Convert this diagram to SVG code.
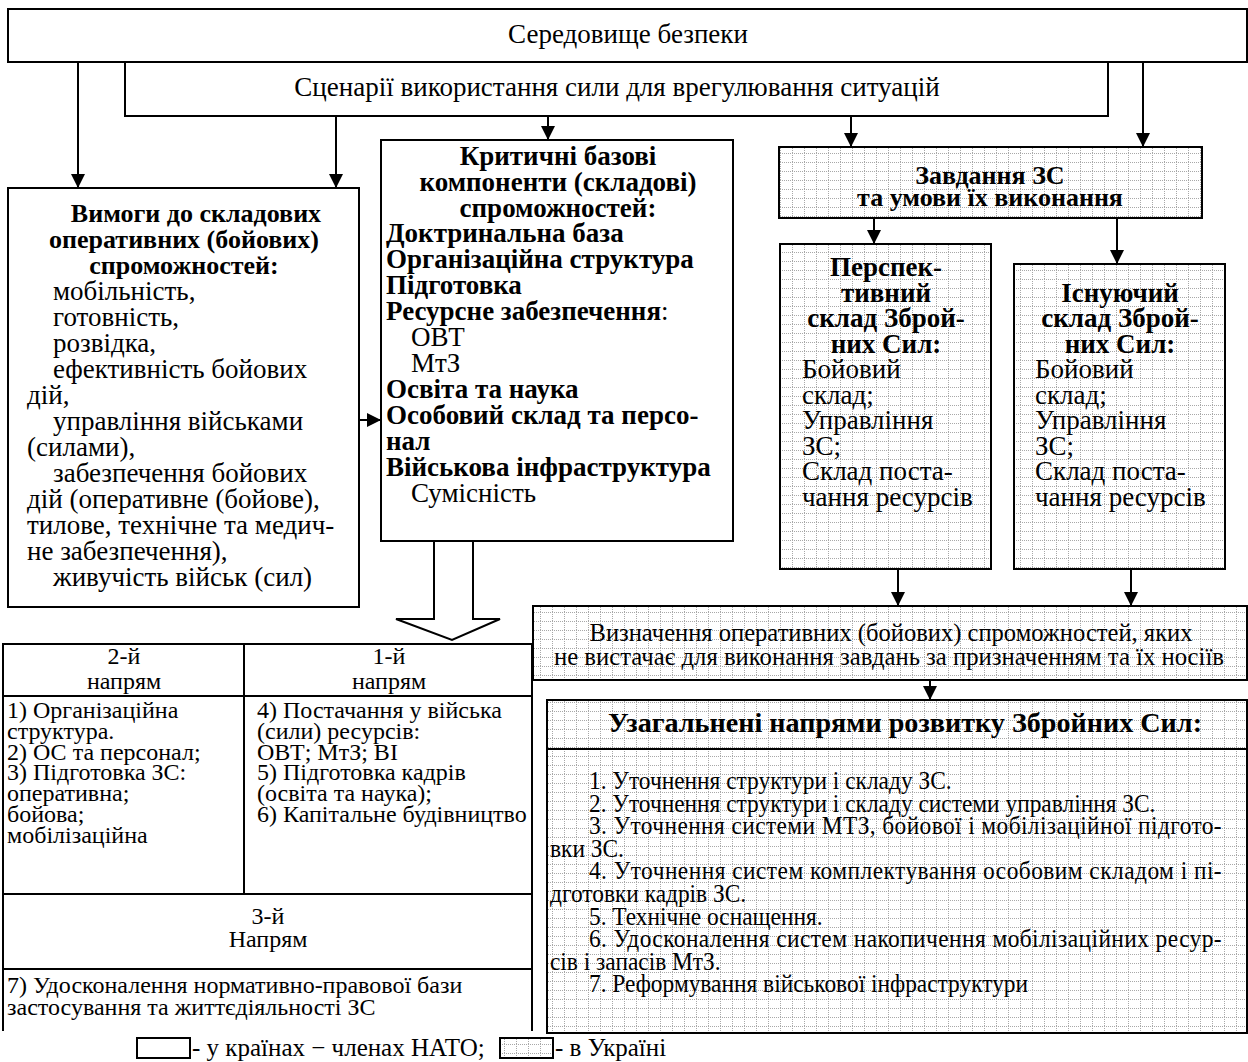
<svg xmlns="http://www.w3.org/2000/svg" width="1248" height="1062" viewBox="0 0 1248 1062">
<defs>
<pattern id="grid" width="12" height="9" patternUnits="userSpaceOnUse">
<rect width="12" height="9" fill="#fff"/>
<path d="M0 0.5H12" stroke="#a8a8a8" stroke-width="1" stroke-dasharray="1 1"/>
<path d="M0.5 0V9" stroke="#a8a8a8" stroke-width="1" stroke-dasharray="1 1"/>
</pattern>
<marker id="ah" markerUnits="userSpaceOnUse" markerWidth="14" markerHeight="14" refX="14" refY="7" orient="auto">
<path d="M0,0 L14,7 L0,14 z" fill="#000"/>
</marker>
<style>
.t{font-family:"Liberation Serif","Times New Roman",serif;font-size:27px;fill:#000}
.b{font-weight:bold}
.c{text-anchor:middle}
.s{font-size:24px}
.n{font-size:26px}
.box{fill:#fff;stroke:#000;stroke-width:2}
.gbox{fill:url(#grid);stroke:#000;stroke-width:2}
.ln{stroke:#000;stroke-width:2;fill:none}
</style>
</defs>
<rect width="1248" height="1062" fill="#fff"/>

<g id="env">
<rect class="box" x="8" y="9" width="1239" height="53"/>
<text class="t c" x="628" y="43">Середовище безпеки</text>
</g>

<g id="scenarios">
<rect class="box" x="125" y="62" width="983" height="54"/>
<text class="t c" x="617" y="96">Сценарії використання сили для врегулювання ситуацій</text>
</g>

<g id="requirements">
<rect class="box" x="8" y="188" width="351" height="419"/>
<text class="t b c n" x="196" y="222">Вимоги до складових</text>
<text class="t b c n" x="184" y="248">оперативних (бойових)</text>
<text class="t b c n" x="184" y="274">спроможностей:</text>
<text class="t" x="53" y="300">мобільність,</text>
<text class="t" x="53" y="326">готовність,</text>
<text class="t" x="53" y="352">розвідка,</text>
<text class="t" x="53" y="378">ефективність бойових</text>
<text class="t" x="27" y="404">дій,</text>
<text class="t" x="53" y="430">управління військами</text>
<text class="t" x="27" y="456">(силами),</text>
<text class="t" x="53" y="482">забезпечення бойових</text>
<text class="t" x="27" y="508">дій (оперативне (бойове),</text>
<text class="t" x="27" y="534">тилове, технічне та медич-</text>
<text class="t" x="27" y="560">не забезпечення),</text>
<text class="t" x="53" y="586">живучість військ (сил)</text>
</g>

<g id="components">
<rect class="box" x="381" y="140" width="352" height="401"/>
<text class="t b c" x="558" y="165">Критичні базові</text>
<text class="t b c" x="558" y="191">компоненти (складові)</text>
<text class="t b c" x="558" y="217">спроможностей:</text>
<text class="t b" x="386" y="242">Доктринальна база</text>
<text class="t b" x="386" y="268">Організаційна структура</text>
<text class="t b" x="386" y="294">Підготовка</text>
<text class="t" x="386" y="320"><tspan class="b">Ресурсне забезпечення</tspan>:</text>
<text class="t" x="411" y="346">ОВТ</text>
<text class="t" x="411" y="372">МтЗ</text>
<text class="t b" x="386" y="398">Освіта та наука</text>
<text class="t b" x="386" y="424">Особовий склад та персо-</text>
<text class="t b" x="386" y="450">нал</text>
<text class="t b" x="386" y="476">Військова інфраструктура</text>
<text class="t" x="411" y="502">Сумісність</text>
</g>

<g id="tasks">
<rect class="gbox" x="779" y="147" width="423" height="71"/>
<text class="t b c n" x="990" y="184">Завдання ЗС</text>
<text class="t b c n" x="990" y="206">та умови їх виконання</text>
</g>

<g id="prospective">
<rect class="gbox" x="780" y="244" width="211" height="325"/>
<text class="t b c" x="886" y="276">Перспек-</text>
<text class="t b c" x="886" y="301.5">тивний</text>
<text class="t b c" x="886" y="327">склад Збрoй-</text>
<text class="t b c" x="886" y="352.5">них Сил:</text>
<text class="t" x="802" y="378">Бойовий</text>
<text class="t" x="802" y="403.5">склад;</text>
<text class="t" x="802" y="429">Управління</text>
<text class="t" x="802" y="454.5">ЗС;</text>
<text class="t" x="802" y="480">Склад поста-</text>
<text class="t" x="802" y="505.5">чання ресурсів</text>
</g>

<g id="existing">
<rect class="gbox" x="1014" y="264" width="211" height="305"/>
<text class="t b c" x="1120" y="301.5">Існуючий</text>
<text class="t b c" x="1120" y="327">склад Збрoй-</text>
<text class="t b c" x="1120" y="352.5">них Сил:</text>
<text class="t" x="1035" y="378">Бойовий</text>
<text class="t" x="1035" y="403.5">склад;</text>
<text class="t" x="1035" y="429">Управління</text>
<text class="t" x="1035" y="454.5">ЗС;</text>
<text class="t" x="1035" y="480">Склад поста-</text>
<text class="t" x="1035" y="505.5">чання ресурсів</text>
</g>

<g id="gaps">
<rect class="gbox" x="533" y="606" width="714" height="74"/>
<text class="t c n" x="891" y="641" textLength="603" lengthAdjust="spacingAndGlyphs">Визначення оперативних (бойових) спроможностей, яких</text>
<text class="t c n" x="889" y="665" textLength="670" lengthAdjust="spacingAndGlyphs">не вистачає для виконання завдань за призначенням та їх носіїв</text>
</g>

<g id="directions">
<rect class="gbox" x="547" y="700" width="700" height="333"/>
<line class="ln" x1="547" y1="749" x2="1247" y2="749"/>
<text class="t b c" x="905" y="732" textLength="594" lengthAdjust="spacingAndGlyphs">Узагальнені напрями розвитку Збройних Сил:</text>
<g transform="scale(0.9,1)">
<text class="t n" x="654.4" y="789">1. Уточнення структури і складу ЗС.</text>
<text class="t n" x="654.4" y="811.6">2. Уточнення структури і складу системи управління ЗС.</text>
<text class="t n" x="654.4" y="834.2" textLength="703" lengthAdjust="spacing">3. Уточнення системи МТЗ, бойової і мобілізаційної підгото-</text>
<text class="t n" x="611.1" y="856.8">вки ЗС.</text>
<text class="t n" x="654.4" y="879.4" textLength="703" lengthAdjust="spacing">4. Уточнення систем комплектування особовим складом і пі-</text>
<text class="t n" x="611.1" y="902">дготовки кадрів ЗС.</text>
<text class="t n" x="654.4" y="924.6">5. Технічне оснащення.</text>
<text class="t n" x="654.4" y="947.2" textLength="703" lengthAdjust="spacing">6. Удосконалення систем накопичення мобілізаційних ресур-</text>
<text class="t n" x="611.1" y="969.8">сів і запасів МтЗ.</text>
<text class="t n" x="654.4" y="992.4">7. Реформування військової інфраструктури</text>
</g>
</g>

<g id="table">
<path class="ln" d="M3 1031V644H532V1031"/>
<line class="ln" x1="244" y1="644" x2="244" y2="894"/>
<line class="ln" x1="3" y1="696" x2="532" y2="696"/>
<line class="ln" x1="3" y1="894" x2="532" y2="894"/>
<line class="ln" x1="3" y1="969" x2="532" y2="969"/>
<text class="t s c" x="124" y="664">2-й</text>
<text class="t s c" x="124" y="689">напрям</text>
<text class="t s c" x="389" y="664">1-й</text>
<text class="t s c" x="389" y="689">напрям</text>
<text class="t s" x="7" y="718">1) Організаційна</text>
<text class="t s" x="7" y="738.8">структура.</text>
<text class="t s" x="7" y="759.6">2) ОС та персонал;</text>
<text class="t s" x="7" y="780.4">3) Підготовка ЗС:</text>
<text class="t s" x="7" y="801.2">оперативна;</text>
<text class="t s" x="7" y="822">бойова;</text>
<text class="t s" x="7" y="842.8">мобілізаційна</text>
<text class="t s" x="257" y="718">4) Постачання у війська</text>
<text class="t s" x="257" y="738.8">(сили) ресурсів:</text>
<text class="t s" x="257" y="759.6">ОВТ; МтЗ; ВІ</text>
<text class="t s" x="257" y="780.4">5) Підготовка кадрів</text>
<text class="t s" x="257" y="801.2">(освіта та наука);</text>
<text class="t s" x="257" y="822">6) Капітальне будівництво</text>
<text class="t s c" x="268" y="924">3-й</text>
<text class="t s c" x="268" y="947">Напрям</text>
<text class="t s" x="7" y="993">7) Удосконалення нормативно-правової бази</text>
<text class="t s" x="7" y="1015">застосування та життєдіяльності ЗС</text>
</g>

<g id="legend">
<rect class="box" x="137" y="1038" width="53" height="20"/>
<text class="t" x="192" y="1056" style="font-size:25px">- у країнах − членах НАТО;</text>
<rect class="gbox" x="500" y="1038" width="53" height="20"/>
<text class="t" x="555" y="1056" style="font-size:25px">- в Україні</text>
</g>

<g id="connectors" class="ln">
<line x1="78" y1="62" x2="78" y2="188" marker-end="url(#ah)"/>
<line x1="336" y1="116" x2="336" y2="188" marker-end="url(#ah)"/>
<line x1="548" y1="116" x2="548" y2="140" marker-end="url(#ah)"/>
<line x1="851" y1="116" x2="851" y2="147" marker-end="url(#ah)"/>
<line x1="1143" y1="62" x2="1143" y2="147" marker-end="url(#ah)"/>
<line x1="359" y1="420" x2="381" y2="420" marker-end="url(#ah)"/>
<line x1="874" y1="218" x2="874" y2="244" marker-end="url(#ah)"/>
<line x1="1117" y1="218" x2="1117" y2="264" marker-end="url(#ah)"/>
<line x1="898" y1="569" x2="898" y2="606" marker-end="url(#ah)"/>
<line x1="1131" y1="569" x2="1131" y2="606" marker-end="url(#ah)"/>
<line x1="930" y1="680" x2="930" y2="700" marker-end="url(#ah)"/>
<polygon points="434,541 434,619 396,619 452,640 500,619 473,619 473,541" fill="#fff" stroke="#000" stroke-width="2"/>
</g>
</svg>
